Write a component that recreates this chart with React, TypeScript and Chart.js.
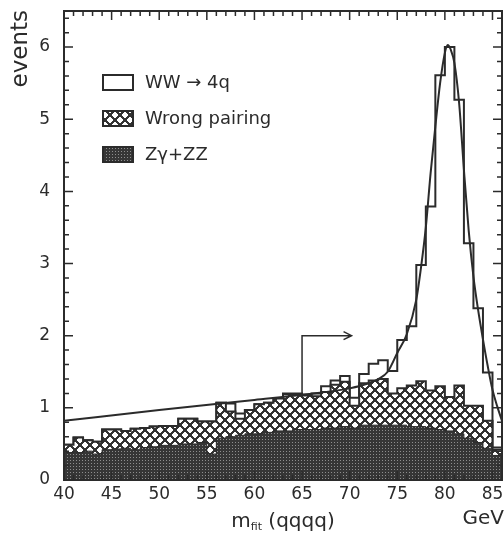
import { useEffect, useRef } from "react";
import { Chart, registerables } from "chart.js";

Chart.register(...registerables);

// Bin edges of the fitted four-jet mass histogram (GeV)
const binEdges = [
  40, 41, 42, 43, 44, 45, 46, 47, 48, 49, 50, 51, 52, 53, 54, 55, 56, 57, 58, 59, 60, 61, 62,
  63, 64, 65, 66, 67, 68, 69, 70, 71, 72, 73, 74, 75, 76, 77, 78, 79, 80, 81, 82, 83, 84, 85, 86,
];

// Top of the full stack (WW -> 4q on top of the backgrounds), events per bin
const allEvents = [
  0.49, 0.59, 0.55, 0.53, 0.7, 0.7, 0.68, 0.71, 0.72, 0.74, 0.75, 0.75, 0.85, 0.85, 0.81, 0.81,
  1.07, 1.06, 0.92, 0.97, 1.05, 1.07, 1.13, 1.2, 1.2, 1.18, 1.2, 1.3, 1.38, 1.44, 1.14, 1.47,
  1.61, 1.66, 1.51, 1.94, 2.13, 2.98, 3.79, 5.61, 6.0, 5.27, 3.28, 2.38, 1.49, 0.45,
];

// Top of the wrong-pairing contribution (stacked on Zγ+ZZ)
const wrongPairingStack = [
  0.49, 0.59, 0.55, 0.53, 0.7, 0.7, 0.68, 0.71, 0.72, 0.74, 0.75, 0.75, 0.85, 0.85, 0.81, 0.81,
  1.07, 0.95, 0.85, 0.97, 1.05, 1.07, 1.13, 1.19, 1.19, 1.17, 1.16, 1.22, 1.32, 1.36, 1.03, 1.34,
  1.38, 1.4, 1.2, 1.27, 1.31, 1.37, 1.24, 1.3, 1.15, 1.31, 1.03, 1.03, 0.82, 0.42,
];

// Zγ + ZZ background
const zgammaZZ = [
  0.38, 0.38, 0.4, 0.36, 0.42, 0.43, 0.44, 0.42, 0.45, 0.46, 0.48, 0.48, 0.5, 0.5, 0.52, 0.36,
  0.58, 0.6, 0.62, 0.64, 0.64, 0.66, 0.68, 0.68, 0.7, 0.7, 0.7, 0.72, 0.72, 0.74, 0.72, 0.76,
  0.76, 0.76, 0.76, 0.76, 0.74, 0.74, 0.72, 0.7, 0.68, 0.64, 0.58, 0.52, 0.44, 0.34,
];

// Fitted curve (background + resonance)
const fitMass = [
  40, 50, 60, 65, 70, 72, 73, 74, 75, 76, 77, 77.5, 78, 78.5, 79, 79.5, 80, 80.3, 80.6, 81,
  81.5, 82, 82.5, 83, 83.5, 84, 84.5, 85, 85.5, 86,
];
const fitEvents = [
  0.82, 0.97, 1.11, 1.18, 1.27, 1.34, 1.4, 1.5, 1.76, 2.02, 2.5, 2.95, 3.5, 4.25, 4.9, 5.5,
  5.92, 6.03, 5.97, 5.78, 5.22, 4.3, 3.46, 2.82, 2.35, 1.95, 1.58, 1.25, 1.02, 0.82,
];

const xTickValues = [40, 45, 50, 55, 60, 65, 70, 75, 80, 85];
const yTickValues = [0, 1, 2, 3, 4, 5, 6];

// Mass cut marker: vertical at the cut, then an arrow pointing to the accepted region
const cutMass = 65;
const cutBase = 1.2;
const cutLevel = 2.0;
const cutArrowEnd = 70.2;

const legendLabels = ["WW \u2192 4q", "Wrong pairing", "Z\u03B3+ZZ"];

const INK = "#2b2b2b";
const FONT = "'DejaVu Sans', sans-serif";

function makeCrossHatch(): CanvasPattern | string {
  const size = 10;
  const c = document.createElement("canvas");
  c.width = size;
  c.height = size;
  const g = c.getContext("2d");
  if (!g) return INK;
  const img = g.createImageData(size, size);
  const centres = [
    [0, 0],
    [size, 0],
    [0, size],
    [size, size],
    [size / 2, size / 2],
  ];
  for (let y = 0; y < size; y++) {
    for (let x = 0; x < size; x++) {
      const px = x + 0.5;
      const py = y + 0.5;
      let d = 99;
      for (const [cx, cy] of centres) d = Math.min(d, Math.abs(px - cx) + Math.abs(py - cy));
      let v = 0x33;
      if (d < 3.2) v = 255;
      else if (d < 3.9) v = 150;
      const i = (y * size + x) * 4;
      img.data[i] = v;
      img.data[i + 1] = v;
      img.data[i + 2] = v;
      img.data[i + 3] = 255;
    }
  }
  g.putImageData(img, 0, 0);
  return g.createPattern(c, "repeat") || INK;
}

function makeDots(): CanvasPattern | string {
  const size = 3;
  const c = document.createElement("canvas");
  c.width = size;
  c.height = size;
  const g = c.getContext("2d");
  if (!g) return INK;
  g.fillStyle = "#363636";
  g.fillRect(0, 0, size, size);
  g.fillStyle = "#8e8e8e";
  g.fillRect(1, 1, 1, 1);
  return g.createPattern(c, "repeat") || INK;
}

function histPoints(values: number[]) {
  const pts = values.map((v, i) => ({ x: binEdges[i], y: v }));
  pts.push({ x: binEdges[binEdges.length - 1], y: values[values.length - 1] });
  return pts;
}

export default function App() {
  const canvasRef = useRef<HTMLCanvasElement>(null);

  useEffect(() => {
    const canvas = canvasRef.current;
    if (!canvas) return;
    const hatch = makeCrossHatch();
    const dots = makeDots();

    const decorations = {
      id: "decorations",
      afterDraw(chart: any) {
        const ctx = chart.ctx as CanvasRenderingContext2D;
        const area = chart.chartArea;
        const xs = chart.scales.x;
        const ys = chart.scales.y;
        ctx.save();

        // frame
        ctx.strokeStyle = INK;
        ctx.lineWidth = 2;
        ctx.strokeRect(area.left, area.top, area.right - area.left, area.bottom - area.top);

        // inward ticks on all four sides
        ctx.lineWidth = 1.5;
        ctx.beginPath();
        for (const v of binEdges) {
          const px = xs.getPixelForValue(v);
          const len = v % 5 === 0 ? 9 : 5;
          ctx.moveTo(px, area.bottom);
          ctx.lineTo(px, area.bottom - len);
          ctx.moveTo(px, area.top);
          ctx.lineTo(px, area.top + len);
        }
        for (let k = 0; k <= 32; k++) {
          const v = k * 0.2;
          const py = ys.getPixelForValue(v);
          const len = k % 5 === 0 ? 9 : 5;
          ctx.moveTo(area.left, py);
          ctx.lineTo(area.left + len, py);
          ctx.moveTo(area.right, py);
          ctx.lineTo(area.right - len, py);
        }
        ctx.stroke();

        // cut arrow
        const ax = xs.getPixelForValue(cutMass);
        const ay0 = ys.getPixelForValue(cutBase);
        const ay = ys.getPixelForValue(cutLevel);
        const aEnd = xs.getPixelForValue(cutArrowEnd);
        ctx.lineWidth = 1.5;
        ctx.beginPath();
        ctx.moveTo(ax, ay0);
        ctx.lineTo(ax, ay);
        ctx.lineTo(aEnd, ay);
        ctx.moveTo(aEnd - 8, ay - 4);
        ctx.lineTo(aEnd, ay);
        ctx.lineTo(aEnd - 8, ay + 4);
        ctx.stroke();

        // legend
        const fills: (CanvasPattern | string | null)[] = [null, hatch, dots];
        const bx = area.left + 39;
        const by0 = area.top + 64;
        ctx.font = `18px ${FONT}`;
        ctx.textBaseline = "middle";
        ctx.textAlign = "left";
        legendLabels.forEach((label, i) => {
          const by = by0 + i * 36;
          const f = fills[i];
          if (f) {
            ctx.fillStyle = f as any;
            ctx.fillRect(bx, by, 30, 15);
          }
          ctx.lineWidth = 2;
          ctx.strokeStyle = INK;
          ctx.strokeRect(bx, by, 30, 15);
          ctx.fillStyle = INK;
          ctx.fillText(label, bx + 42, by + 8);
        });

        // y title
        ctx.save();
        ctx.translate(21, area.top - 1);
        ctx.rotate(-Math.PI / 2);
        ctx.font = `23px ${FONT}`;
        ctx.textAlign = "right";
        ctx.textBaseline = "middle";
        ctx.fillStyle = INK;
        ctx.fillText("events", 0, 0);
        ctx.restore();

        // x title: m_fit (qqqq)
        ctx.fillStyle = INK;
        ctx.textBaseline = "alphabetic";
        ctx.textAlign = "left";
        const big = `20px ${FONT}`;
        const small = `11px ${FONT}`;
        ctx.font = big;
        const wM = ctx.measureText("m").width;
        const wRest = ctx.measureText(" (qqqq)").width;
        ctx.font = small;
        const wSub = ctx.measureText("fit").width;
        const total = wM + wSub + wRest;
        let tx = 283 - total / 2;
        const base = 527;
        ctx.font = big;
        ctx.fillText("m", tx, base);
        tx += wM;
        ctx.font = small;
        ctx.fillText("fit", tx, base + 3);
        tx += wSub;
        ctx.font = big;
        ctx.fillText(" (qqqq)", tx, base);

        ctx.textAlign = "right";
        ctx.fillText("GeV", 504, 524);
        ctx.restore();
      },
    };

    const chart = new Chart(canvas, {
      type: "line",
      data: {
        datasets: [
          {
            label: "fit",
            data: fitMass.map((x, i) => ({ x, y: fitEvents[i] })),
            borderColor: INK,
            borderWidth: 2,
            fill: false,
            pointRadius: 0,
            cubicInterpolationMode: "monotone",
          },
          {
            label: legendLabels[2],
            data: histPoints(zgammaZZ),
            stepped: "before",
            borderColor: INK,
            borderWidth: 1,
            backgroundColor: dots as any,
            fill: "origin",
            pointRadius: 0,
          },
          {
            label: legendLabels[1],
            data: histPoints(wrongPairingStack),
            stepped: "before",
            borderColor: INK,
            borderWidth: 2,
            backgroundColor: hatch as any,
            fill: "origin",
            pointRadius: 0,
          },
          {
            label: legendLabels[0],
            data: histPoints(allEvents),
            stepped: "before",
            borderColor: INK,
            borderWidth: 2,
            backgroundColor: "#ffffff",
            fill: "origin",
            pointRadius: 0,
          },
        ],
      },
      options: {
        animation: false,
        responsive: false,
        devicePixelRatio: 1,
        layout: { padding: { left: 0, right: 2, top: 11, bottom: 0 } },
        plugins: { legend: { display: false }, tooltip: { enabled: false } },
        scales: {
          x: {
            type: "linear",
            min: 40,
            max: 86,
            grid: { display: false, drawTicks: false },
            border: { display: false },
            afterBuildTicks: (s: any) => {
              s.ticks = xTickValues.map((v) => ({ value: v }));
            },
            afterFit: (s: any) => {
              s.height = 55;
              s.paddingLeft = 0;
              s.paddingRight = 0;
            },
            ticks: {
              color: INK,
              font: { family: FONT, size: 17 },
              padding: 4,
              maxRotation: 0,
              autoSkip: false,
            },
          },
          y: {
            type: "linear",
            min: 0,
            max: 6.5,
            grid: { display: false, drawTicks: false },
            border: { display: false },
            afterBuildTicks: (s: any) => {
              s.ticks = yTickValues.map((v) => ({ value: v }));
            },
            afterFit: (s: any) => {
              s.width = 64;
              s.paddingTop = 0;
              s.paddingBottom = 0;
            },
            ticks: {
              color: INK,
              font: { family: FONT, size: 17 },
              padding: 14,
            },
          },
        },
      },
      plugins: [decorations],
    });

    return () => chart.destroy();
  }, []);

  return (
    <div style={{ position: "absolute", left: 0, top: 0, width: 504, height: 535, background: "#fff" }}>
      <canvas ref={canvasRef} width={504} height={535} style={{ display: "block" }} />
    </div>
  );
}
